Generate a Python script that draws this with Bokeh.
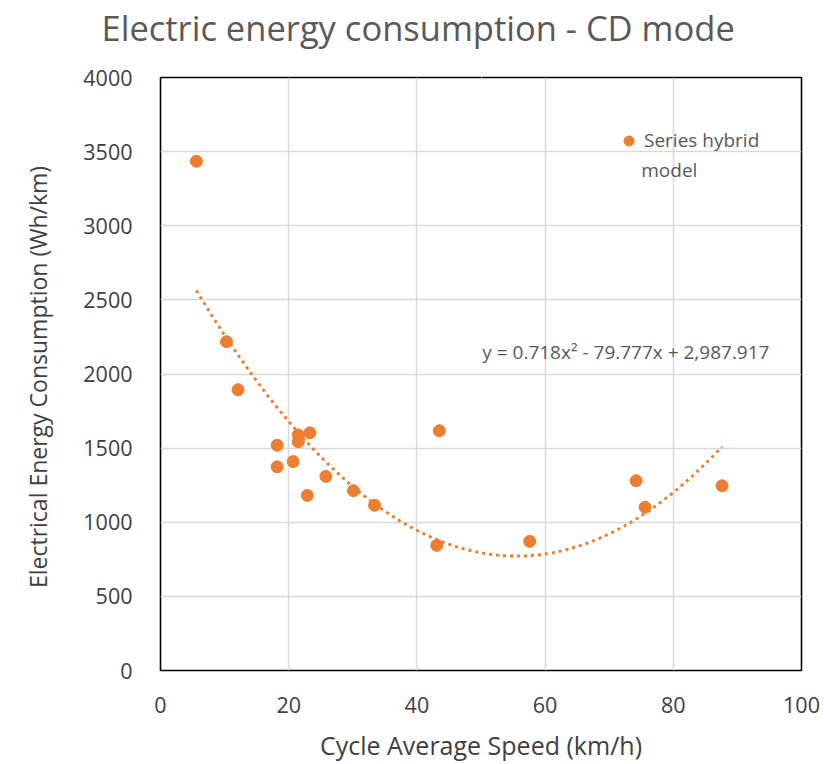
import numpy as np
from bokeh.plotting import figure
from bokeh.models import (ColumnDataSource, Legend, LegendItem, Label, SingleIntervalTicker,
                          FixedTicker, LinearAxis)
from bokeh.embed import file_html
from bokeh.resources import INLINE

# Data
speed = [5.6, 10.3, 12.1, 18.2, 18.2, 20.7, 21.5, 21.5, 23.3, 22.9, 25.8, 30.1, 33.4,
         43.5, 43.1, 57.6, 74.2, 75.6, 87.6]
energy = [3435, 2218, 1894, 1519, 1374, 1409, 1588, 1543, 1603, 1181, 1309, 1213, 1114,
          1617, 844, 871, 1280, 1101, 1246]
trend_coeffs = [0.718, -79.777, 2987.917]  # y = a x^2 + b x + c
equation_text = "y = 0.718x² - 79.777x + 2,987.917"
series_name = "Series hybrid"
series_name_2 = "model"
title_text = "Electric energy consumption - CD mode"
x_label = "Cycle Average Speed (km/h)"
y_label = "Electrical Energy  Consumption (Wh/km)"

ORANGE = "#ED7D31"
GRAY = "#595959"
DARK = "#404040"
FONT = "Open Sans"

p = figure(width=824, height=764, x_range=(0, 100), y_range=(0, 4000),
           output_backend="svg", toolbar_location=None,
           min_border_left=160, min_border_right=23, min_border_top=77, min_border_bottom=93)

xax = p.below[0]
yax = p.left[0]

# invisible spacer between plot area and title (pushes the title upwards)
spacer = LinearAxis(ticker=FixedTicker(ticks=[50]), axis_line_color=None,
                    major_tick_line_color="white", minor_tick_line_color=None,
                    major_tick_out=21, major_tick_in=0, minor_tick_out=0, minor_tick_in=0,
                    major_label_standoff=0, major_label_overrides={50: ""},
                    major_label_text_color=None, major_label_text_font_size="1px")
p.add_layout(spacer, "above")

p.title.text = title_text
p.title.text_font = FONT
p.title.text_font_size = "34.5px"
p.title.text_font_style = "normal"
p.title.text_color = GRAY
p.title.align = "left"
p.title.offset = -59
p.title.vertical_align = "top"
p.title.standoff = 7

p.outline_line_color = "black"
p.outline_line_width = 1.6
p.background_fill_color = "white"
p.border_fill_color = "white"

for ax in (xax, yax):
    ax.axis_line_color = None
    ax.major_tick_line_color = None
    ax.minor_tick_line_color = None
    ax.major_tick_out = 0
    ax.major_tick_in = 0
    ax.major_label_text_font = FONT
    ax.major_label_text_font_size = "21.5px"
    ax.major_label_text_color = DARK
    ax.axis_label_text_font = FONT
    ax.axis_label_text_font_style = "normal"
    ax.axis_label_text_color = DARK

xax.ticker = SingleIntervalTicker(interval=20)
yax.ticker = SingleIntervalTicker(interval=500)
xax.axis_label = x_label
yax.axis_label = y_label
xax.axis_label_text_font_size = "25px"
yax.axis_label_text_font_size = "23px"
xax.major_label_standoff = 22
xax.axis_label_standoff = 12
yax.major_label_standoff = 24
yax.axis_label_standoff = 26

p.grid.grid_line_color = "#D9D9D9"
p.grid.grid_line_width = 1.5

# trendline from the displayed equation over the data range
tx = np.linspace(min(speed), max(speed), 200)
ty = np.polyval(trend_coeffs, tx)
p.line(tx, ty, line_color=ORANGE, line_width=3, line_dash="3 4")

src = ColumnDataSource(dict(x=speed, y=energy))
pts = p.scatter("x", "y", source=src, size=12, fill_color=ORANGE, line_color=ORANGE)

legend = Legend(items=[LegendItem(label=series_name, renderers=[pts])],
                location=(456, 517), background_fill_alpha=0, border_line_color=None,
                label_text_font=FONT, label_text_font_size="19px", label_text_color=GRAY,
                glyph_width=25, glyph_height=25, label_standoff=3)
p.add_layout(legend)

p.add_layout(Label(x=75.0, y=3375, text=series_name_2, text_font=FONT, text_font_size="19px",
                   text_color=GRAY, text_baseline="middle"))

p.add_layout(Label(x=50.2, y=2150, text=equation_text, text_font=FONT, text_font_size="19px",
                   text_color=GRAY, text_baseline="middle"))

open("out.html", "w").write(file_html(p, INLINE))
